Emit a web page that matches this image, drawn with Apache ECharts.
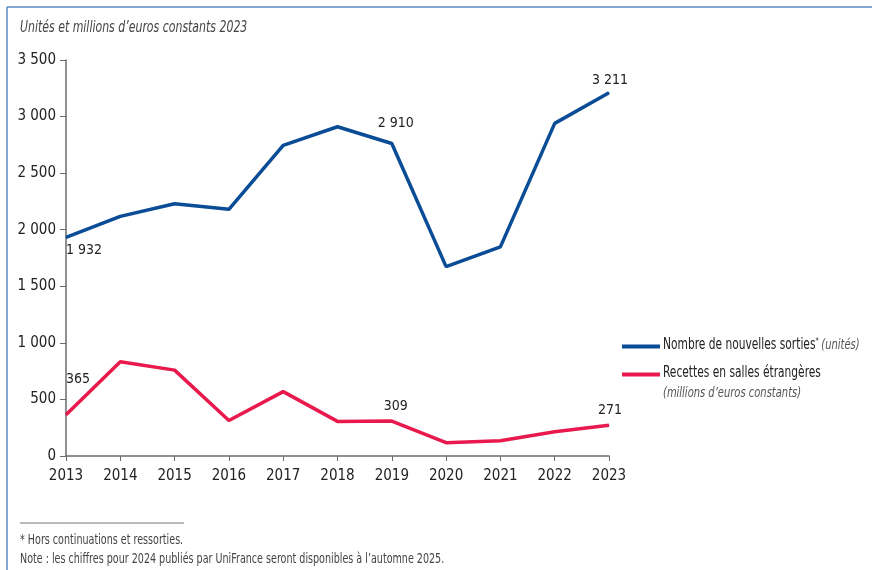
<!DOCTYPE html>
<html>
<head>
<meta charset="utf-8">
<script src="https://cdn.jsdelivr.net/npm/echarts@6/dist/echarts.min.js"></script>
<style>
html,body{margin:0;padding:0;background:#fff;}
#chart{width:872px;height:570px;}
</style>
</head>
<body>
<div id="chart"></div>
<script>
const years = ['2013','2014','2015','2016','2017','2018','2019','2020','2021','2022','2023'];
const sorties = [1932, 2118, 2230, 2180, 2745, 2910, 2762, 1674, 1848, 2940, 3211];
const recettes = [365, 833, 759, 314, 569, 306, 309, 118, 135, 215, 271];
const sortiesLabels = ['1 932', null, null, null, null, null, '2 910', null, null, null, '3 211'];
const recettesLabels = ['365', null, null, null, null, null, '309', null, null, null, '271'];
const seriesNames = ['Nombre de nouvelles sorties', 'Recettes en salles étrangères'];
const unitTitle = "Unités et millions d’euros constants 2023";
const legendSuffix1 = '(unités)';
const legendSuffix2 = '(millions d’euros constants)';
const footnote1 = '* Hors continuations et ressorties.';
const footnote2 = 'Note : les chiffres pour 2024 publiés par UniFrance seront disponibles à l’automne 2025.';

const FONT = "'Liberation Sans Narrow', 'DejaVu Sans Condensed', 'Liberation Sans', sans-serif";
const BLUE = '#0a4c95';
const RED = '#e8194d';

function fmt(v){ return String(v).replace(/\B(?=(\d{3})+(?!\d))/g, ' '); }

const sortiesOffsets = {0:['bottom',[18,0]], 6:['top',[4,-8]], 10:['top',[1,0]]};
const recettesOffsets = {0:['top',[12,-23]], 6:['top',[4,-2]], 10:['top',[1,-2]]};

function buildData(vals, labels, offs){
  return vals.map((v,i)=>{
    if(labels[i] === null) return {value: v};
    return {value: v, label: {show: true, formatter: labels[i], position: offs[i][0], offset: offs[i][1]}};
  });
}

const chart = echarts.init(document.getElementById('chart'));
chart.setOption({
  animation: false,
  textStyle: {fontFamily: FONT},
  grid: {left: 66, right: 263, top: 60, bottom: 114},
  xAxis: {
    type: 'category', data: years, boundaryGap: false,
    axisLine: {lineStyle: {color: '#6b6b6b', width: 1.5}},
    axisTick: {show: true, length: 5, lineStyle: {color: '#6b6b6b'}, alignWithLabel: true},
    axisLabel: {color: '#222', fontSize: 15, margin: 13, fontFamily: FONT}
  },
  yAxis: {
    type: 'value', min: 0, max: 3500, interval: 500,
    splitLine: {show: false},
    axisLine: {show: true, lineStyle: {color: '#6b6b6b', width: 1.5}},
    axisTick: {show: true, length: 6, lineStyle: {color: '#6b6b6b'}},
    axisLabel: {color: '#222', fontSize: 15, margin: 10, formatter: fmt, fontFamily: FONT}
  },
  legend: {
    orient: 'vertical', left: 617, top: 334, itemWidth: 38, itemHeight: 4, itemGap: 13,
    icon: 'rect',
    data: seriesNames,
    textStyle: {fontSize: 15, color: 'rgba(0,0,0,0)'},
    formatter: function(){ return ' '; }
  },
  graphic: [
    {type: 'line', shape: {x1: 7, y1: 7, x2: 872, y2: 7}, style: {stroke: '#5c8ac4', lineWidth: 1.5}},
    {type: 'line', shape: {x1: 7, y1: 7, x2: 7, y2: 570}, style: {stroke: '#5c8ac4', lineWidth: 1.5}},
    {type: 'text', x: 20, y: 20, scaleX: 0.76, style: {text: unitTitle, font: "italic 16px " + FONT, fill: '#444', verticalAlign: 'top'}},
    {type: 'text', x: 663, y: 337, scaleX: 0.79, style: {
      text: '{n|' + seriesNames[0] + '}{s|*} {i|' + legendSuffix1 + '}', verticalAlign: 'top',
      rich: {
        n: {font: "15px " + FONT, fill: '#222'},
        s: {font: "9px " + FONT, fill: '#222', verticalAlign: 'top', padding: [0,0,8,0]},
        i: {font: "italic 14px " + FONT, fill: '#555'}
      }
    }},
    {type: 'text', x: 663, y: 366, scaleX: 0.79, style: {text: seriesNames[1], font: "15px " + FONT, fill: '#222', verticalAlign: 'top'}},
    {type: 'text', x: 663, y: 386, scaleX: 0.79, style: {text: legendSuffix2, font: "italic 14px " + FONT, fill: '#555', verticalAlign: 'top'}},
    {type: 'line', shape: {x1: 20, y1: 523, x2: 184, y2: 523}, style: {stroke: '#777', lineWidth: 1}},
    {type: 'text', x: 20, y: 533, scaleX: 0.76, style: {text: footnote1, font: "14px " + FONT, fill: '#444', verticalAlign: 'top'}},
    {type: 'text', x: 20, y: 552, scaleX: 0.76, style: {text: footnote2, font: "14px " + FONT, fill: '#444', verticalAlign: 'top'}}
  ],
  series: [
    {
      name: seriesNames[0], type: 'line', data: buildData(sorties, sortiesLabels, sortiesOffsets),
      symbol: 'circle', symbolSize: 1, showSymbol: true,
      lineStyle: {color: BLUE, width: 3.5}, itemStyle: {color: BLUE},
      label: {show: false, color: '#222', fontSize: 14, fontFamily: FONT},
      emphasis: {disabled: true}
    },
    {
      name: seriesNames[1], type: 'line', data: buildData(recettes, recettesLabels, recettesOffsets),
      symbol: 'circle', symbolSize: 1, showSymbol: true,
      lineStyle: {color: RED, width: 3.5}, itemStyle: {color: RED},
      label: {show: false, color: '#222', fontSize: 14, fontFamily: FONT},
      emphasis: {disabled: true}
    }
  ]
});
</script>
</body>
</html>
